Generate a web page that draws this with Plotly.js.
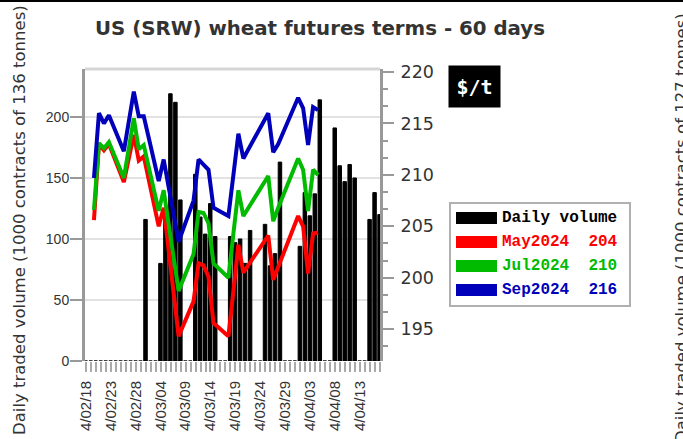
<!DOCTYPE html>
<html>
<head>
<meta charset="utf-8">
<script src="https://cdn.plot.ly/plotly-3.0.1.min.js"></script>
<style>
  html, body { margin: 0; padding: 0; background: #fff; }
  #wrap { position: relative; width: 683px; height: 439px; overflow: hidden; }
  #chart { width: 683px; height: 439px; }
  #topline { position: absolute; left: 0; top: 0; width: 683px; height: 2px; background: #000; }
</style>
</head>
<body>
<div id="wrap"><div id="chart"></div><div id="topline"></div></div>
<script>
// ---- data ----
const days = [
  '2024-02-18','2024-02-19','2024-02-20','2024-02-21','2024-02-22','2024-02-23','2024-02-24','2024-02-25',
  '2024-02-26','2024-02-27','2024-02-28','2024-02-29','2024-03-01','2024-03-02','2024-03-03','2024-03-04',
  '2024-03-05','2024-03-06','2024-03-07','2024-03-08','2024-03-09','2024-03-10','2024-03-11','2024-03-12',
  '2024-03-13','2024-03-14','2024-03-15','2024-03-16','2024-03-17','2024-03-18','2024-03-19','2024-03-20',
  '2024-03-21','2024-03-22','2024-03-23','2024-03-24','2024-03-25','2024-03-26','2024-03-27','2024-03-28',
  '2024-03-29','2024-03-30','2024-03-31','2024-04-01','2024-04-02','2024-04-03','2024-04-04','2024-04-05',
  '2024-04-06','2024-04-07','2024-04-08','2024-04-09','2024-04-10','2024-04-11','2024-04-12','2024-04-13',
  '2024-04-14','2024-04-15','2024-04-16','2024-04-17'
];
const volume = [
  0,0,0,0,0,0,0,0,0,0,0,0,116,0,0,80,124,219,212,132,0,0,153,118,104,129,102,0,0,102,
  97,100,80,107,0,0,112,78,88,163,0,0,0,94,138,119,137,214,0,0,191,160,147,161,150,0,0,116,138,120
];
const tradeDates = [
  '2024-02-20','2024-02-21','2024-02-22','2024-02-23','2024-02-26','2024-02-27','2024-02-28','2024-02-29',
  '2024-03-01','2024-03-04','2024-03-05','2024-03-06','2024-03-07','2024-03-08','2024-03-11','2024-03-12',
  '2024-03-13','2024-03-14','2024-03-15','2024-03-18','2024-03-19','2024-03-20','2024-03-21','2024-03-22',
  '2024-03-25','2024-03-26','2024-03-27','2024-03-28','2024-04-01','2024-04-02','2024-04-03','2024-04-04',
  '2024-04-05'
];
const may2024 = [205.6,213.0,212.4,213.0,209.3,211.6,213.9,211.4,211.8,205.0,206.8,202.7,198.5,194.3,197.7,201.4,
  201.2,200.1,195.6,194.3,198.7,203.2,200.5,201.2,203.4,204.1,199.8,201.0,206.0,205.0,200.4,204.3,204.4];
const jul2024 = [206.6,213.1,212.6,213.2,209.7,212.6,215.5,212.5,212.9,206.5,208.5,205.2,201.9,198.7,202.3,206.4,
  206.3,205.3,201.4,200.0,204.3,208.5,206.0,206.8,209.1,209.9,205.5,206.8,211.6,210.5,206.5,210.5,210.0];
const sep2024 = [209.7,216.0,215.0,215.8,212.3,215.2,218.1,215.7,215.7,209.4,211.5,208.8,206.2,203.5,207.5,211.5,
  211.0,210.5,206.8,206.0,210.0,214.0,211.6,212.5,215.1,216.0,212.2,213.0,217.5,216.5,212.9,216.6,216.3];
const seriesNames = ['May2024','Jul2024','Sep2024'];
const seriesColors = ['#ff0000','#00bb00','#0000bb'];

// ---- helpers ----
const DAY = 86400000;
function shiftDate(s, frac) {
  const t = Date.parse(s + 'T00:00:00Z') + frac * DAY;
  return new Date(t).toISOString().slice(0, 19).replace('T', ' ');
}
// plot area in px: x 85..380, y 69..361
const PL = 85, PR = 380, PT = 69, PB = 361;
const px = x => (x - PL) / (PR - PL);
const py = y => (PB - y) / (PB - PT);

const seriesData = [may2024, jul2024, sep2024];
const traces = [{
  type: 'bar', x: days, y: volume, yaxis: 'y',
  width: 0.7 * DAY, offset: 0,
  marker: { color: '#000', line: { color: '#000', width: 1 } },
  cliponaxis: false, hoverinfo: 'skip', showlegend: false
}];
seriesData.forEach((s, i) => traces.push({
  type: 'scatter', mode: 'lines', x: tradeDates, y: s, yaxis: 'y2',
  line: { color: seriesColors[i], width: 4 }, hoverinfo: 'skip', showlegend: false
}));

const tickFont = { family: 'Liberation Sans, Arial, sans-serif', color: '#333' };
const shapes = [
  { type: 'line', xref: 'paper', yref: 'paper', x0: 0, x1: 1, y0: 1, y1: 1, line: { color: '#d6d6d6', width: 3 } },
  // legend box
  { type: 'rect', xref: 'paper', yref: 'paper', x0: px(450), x1: px(630), y0: py(306), y1: py(203),
    line: { color: '#b0b0b0', width: 2 }, fillcolor: '#fff' }
];
const annotations = [
  { text: 'US (SRW) wheat futures terms - 60 days', xref: 'paper', yref: 'paper', x: px(320), y: py(29),
    xanchor: 'center', yanchor: 'middle', showarrow: false,
    font: { family: 'DejaVu Sans, sans-serif', size: 19.8, color: '#333', weight: 'bold' } },
  { text: 'Daily traded volume (1000 contracts of 136 tonnes)', xref: 'paper', yref: 'paper',
    x: px(19), y: py(220), textangle: -90, showarrow: false, xanchor: 'center', yanchor: 'middle',
    font: { family: 'DejaVu Sans, sans-serif', size: 16.5, color: '#333' } },
  { text: 'Daily traded volume (1000 contracts of 127 tonnes)', xref: 'paper', yref: 'paper',
    x: px(681), y: py(228), textangle: -90, showarrow: false, xanchor: 'center', yanchor: 'middle',
    font: { family: 'DejaVu Sans, sans-serif', size: 16.5, color: '#333' } },
  { text: '$/t', xref: 'paper', yref: 'paper', x: px(474.5), y: py(86.5), showarrow: false,
    xanchor: 'center', yanchor: 'middle', bgcolor: '#000', borderpad: 7, width: 37, height: 27,
    font: { family: 'DejaVu Sans Mono, monospace', size: 20, color: '#fff', weight: 'bold' } }
];
const legendRows = [{ label: 'Daily volume', color: '#000' }].concat(
  seriesNames.map((n, i) => ({
    label: n + '\u00a0\u00a0' + Math.round(seriesData[i][seriesData[i].length - 1]),
    color: seriesColors[i]
  })));
const rowY = [218, 242, 266, 290];
legendRows.forEach((r, i) => {
  shapes.push({ type: 'rect', xref: 'paper', yref: 'paper', x0: px(456), x1: px(497),
    y0: py(rowY[i] + 6), y1: py(rowY[i] - 6), line: { width: 0 }, fillcolor: r.color });
  annotations.push({ text: r.label, xref: 'paper', yref: 'paper', x: px(499.5), y: py(rowY[i]),
    xanchor: 'left', yanchor: 'middle', showarrow: false,
    font: { family: 'Liberation Mono, Courier New, monospace', size: 16, weight: 'bold',
            color: i === 0 ? '#000' : r.color } });
});

const layout = {
  width: 683, height: 439,
  margin: { l: PL, r: 683 - PR, t: PT, b: 439 - PB, pad: 0 },
  paper_bgcolor: '#fff', plot_bgcolor: '#fff',
  showlegend: false, bargap: 0,
  xaxis: {
    type: 'date', range: [shiftDate(days[0], 0.2), shiftDate(days[0], 59.44)],
    tick0: shiftDate(days[0], 0.4), dtick: 5 * DAY, tickformat: '4/%m/%d',
    tickangle: -90, ticks: 'outside', ticklen: 10, tickwidth: 2, tickcolor: '#aaa',
    minor: { tick0: shiftDate(days[0], 0.4), dtick: DAY, ticks: 'outside', ticklen: 10, tickwidth: 2, tickcolor: '#aaa', showgrid: false },
    showgrid: false, zeroline: false, showline: false, ticklabelstandoff: 3,
    tickfont: Object.assign({ size: 15 }, tickFont)
  },
  yaxis: {
    range: [0, 239.3], dtick: 50, tick0: 0,
    ticks: 'outside', ticklen: 12, tickwidth: 2, tickcolor: '#999',
    showline: true, linecolor: '#999', linewidth: 3, ticklabelstandoff: -2,
    showgrid: true, gridcolor: '#e2e2e2', gridwidth: 2, zeroline: false,
    tickfont: Object.assign({ size: 14 }, tickFont)
  },
  yaxis2: {
    overlaying: 'y', side: 'right', range: [191.9, 220.3], dtick: 5, tick0: 0,
    ticks: 'outside', ticklen: 11, tickwidth: 2, tickcolor: '#999',
    minor: { dtick: 5 / 3, tick0: 0, ticks: 'outside', ticklen: 5, tickwidth: 2, tickcolor: '#999', showgrid: false },
    showline: true, linecolor: '#999', linewidth: 3, showgrid: false, zeroline: false, ticklabelstandoff: 3,
    tickfont: { family: 'DejaVu Sans, sans-serif', size: 17.5, color: '#333' }
  },
  shapes: shapes,
  annotations: annotations
};

Plotly.newPlot('chart', traces, layout, { staticPlot: true, displayModeBar: false });
</script>
</body>
</html>
